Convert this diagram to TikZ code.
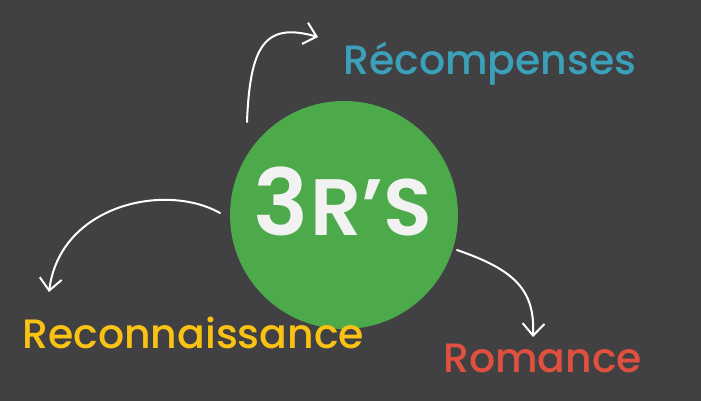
\documentclass[tikz,border=0pt]{standalone}
\usepackage{fontspec}
\setmainfont{Poppins}[UprightFont=* Medium, BoldFont=* SemiBold]
\usepackage{tikz}
\usetikzlibrary{arrows.meta}
\definecolor{bgray}{RGB}{65,64,66}
\definecolor{rgreen}{RGB}{77,170,74}
\definecolor{rteal}{RGB}{59,161,186}
\definecolor{ryellow}{RGB}{250,195,20}
\definecolor{rred}{RGB}{224,80,62}
\tikzset{
  word/.style={inner sep=0pt, anchor=base west, font=\fontsize{41}{41}\selectfont},
  swoosh/.style={draw=white, line width=2pt, line cap=round,
    -{Straight Barb[length=12pt, width=22pt, line width=2pt]}}
}

\begin{document}
\begin{tikzpicture}[x=1pt,y=-1pt]
\fill[bgray] (0,0) rectangle (701,401);
\useasboundingbox (0,0) rectangle (701,401);
\node[circle, fill=rgreen, minimum size=228pt, inner sep=0pt] (hub) at (344,215) {};
\node[inner sep=0pt, anchor=base, text=white!95!black] (title) at (343,235)
  {\bfseries\fontsize{92}{92}\selectfont 3\fontsize{80}{80}\selectfont\kern1pt R’S};
\node[word, text=rteal] (rec) at (343,75) {Récompenses};
\node[word, text=ryellow] (recon) at (22,348) {Reconnaissance};
\node[word, text=rred] (rom) at (443,372) {Romance};
\coordinate (a1) at (247,122);
\coordinate (b1) at (318,37);
\coordinate (a2) at (220,213);
\coordinate (b2) at (49,292);
\coordinate (a3) at (457,250);
\coordinate (b3) at (533,337);
\draw[swoosh] (a1) .. controls (250,45) and (265,22) .. (b1);
\draw[swoosh] (a2) .. controls (165,182) and (60,205) .. (b2);
\draw[swoosh] (a3) .. controls (515,270) and (535,290) .. (b3);
\end{tikzpicture}
\end{document}
